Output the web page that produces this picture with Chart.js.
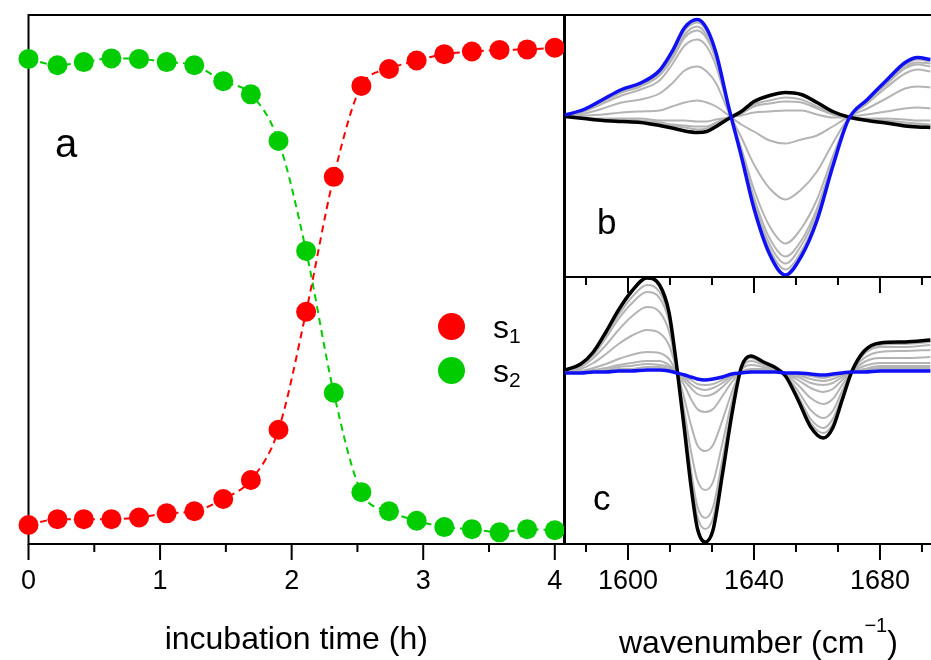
<!DOCTYPE html>
<html><head><meta charset="utf-8">
<script src="https://cdn.jsdelivr.net/npm/chart.js@4.4.1/dist/chart.umd.min.js"></script>
<style>
html,body{margin:0;padding:0;background:#fff;}
#wrap{position:relative;width:931px;height:660px;overflow:hidden;font-family:'Liberation Sans',Arial,sans-serif;color:#000;}
canvas{position:absolute;left:0;top:0;}
.t{position:absolute;line-height:1;white-space:nowrap;}
.r{position:relative;}
.dot{position:absolute;border-radius:50%;width:27px;height:27px;}
</style></head><body>
<div id="wrap">
<canvas id="ca" width="931" height="660"></canvas>
<canvas id="cb" width="931" height="660"></canvas>
<canvas id="cc" width="931" height="660"></canvas>
<div class="t" style="left:55px;top:123px;font-size:40px">a</div>
<div class="t" style="left:597px;top:204px;font-size:35px">b</div>
<div class="t" style="left:593px;top:480px;font-size:35px">c</div>
<div class="dot" style="left:437.5px;top:313px;background:#ff0000"></div>
<div class="dot" style="left:437.5px;top:356.5px;background:#00cc00"></div>
<div class="t" style="left:493px;top:311px;font-size:32px">s<span class="r" style="font-size:21px;top:5px">1</span></div>
<div class="t" style="left:493px;top:354.5px;font-size:32px">s<span class="r" style="font-size:21px;top:5px">2</span></div>
<div class="t" style="left:619px;top:625.5px;font-size:32px">wavenumber (cm<span class="r" style="font-size:20px;top:-21px">&minus;1</span>)</div>
</div>
<script>
// ---------- panel a : incubation kinetics ----------
const timeH = [0, 0.22, 0.42, 0.63, 0.84, 1.05, 1.26, 1.48, 1.69, 1.90, 2.11, 2.32, 2.53, 2.74, 2.95, 3.16, 3.37, 3.58, 3.79, 4.00];
const s1 = [0.036, 0.047, 0.047, 0.047, 0.050, 0.058, 0.062, 0.085, 0.121, 0.216, 0.439, 0.694, 0.866, 0.898, 0.914, 0.926, 0.931, 0.934, 0.935, 0.938];
const s2 = [0.917, 0.905, 0.911, 0.918, 0.917, 0.911, 0.905, 0.875, 0.850, 0.762, 0.554, 0.286, 0.098, 0.062, 0.044, 0.032, 0.028, 0.022, 0.028, 0.026];
const majorTicksA = [0, 1, 2, 3, 4];
const minorTicksA = [0.5, 1.5, 2.5, 3.5];

// ---------- panel b : spectra ----------
const wnB = [1580, 1586, 1592, 1598, 1604, 1610, 1614, 1618, 1622, 1625, 1628, 1632, 1636, 1640, 1645, 1650, 1655, 1660, 1665, 1670, 1676, 1682, 1688, 1692, 1696];
const blueB  = [0.015, 0.07, 0.17, 0.27, 0.335, 0.46, 0.65, 0.89, 0.97, 0.88, 0.63, 0.09, -0.40, -0.92, -1.38, -1.585, -1.40, -1.04, -0.50, -0.03, 0.17, 0.36, 0.54, 0.59, 0.57];
const blackB = [0.00, -0.02, -0.04, -0.05, -0.06, -0.09, -0.115, -0.145, -0.16, -0.15, -0.10, -0.02, 0.05, 0.15, 0.21, 0.24, 0.22, 0.14, 0.05, -0.005, -0.04, -0.065, -0.095, -0.105, -0.11];
const greyB1 = [0.00, -0.02, -0.03, -0.04, -0.05, -0.07, -0.09, -0.11, -0.13, -0.12, -0.08, -0.02, 0.04, 0.12, 0.16, 0.19, 0.17, 0.10, 0.03, -0.01, -0.03, -0.05, -0.08, -0.08, -0.09];
const greyB2 = [0.00, -0.02, -0.03, -0.03, -0.04, -0.06, -0.08, -0.09, -0.10, -0.10, -0.06, -0.01, 0.03, 0.10, 0.13, 0.15, 0.14, 0.08, 0.02, -0.01, -0.03, -0.04, -0.06, -0.07, -0.08];
const greyB3 = [0.00, -0.01, -0.02, -0.02, -0.02, -0.04, -0.04, -0.04, -0.05, -0.05, -0.03, -0.01, 0.01, 0.04, 0.05, 0.06, 0.06, 0.02, -0.01, -0.01, -0.02, -0.02, -0.03, -0.04, -0.04];
const greyB4 = [0.00, 0.01, 0.02, 0.04, 0.05, 0.06, 0.10, 0.14, 0.16, 0.14, 0.10, 0.01, -0.08, -0.15, -0.24, -0.27, -0.23, -0.19, -0.10, -0.01, 0.02, 0.05, 0.08, 0.09, 0.08];
const greyB5 = [0.01, 0.03, 0.08, 0.14, 0.17, 0.23, 0.33, 0.46, 0.50, 0.45, 0.33, 0.04, -0.21, -0.48, -0.72, -0.83, -0.73, -0.55, -0.27, -0.02, 0.08, 0.18, 0.28, 0.30, 0.29];
const greyB6 = [0.01, 0.05, 0.13, 0.21, 0.27, 0.36, 0.52, 0.71, 0.77, 0.70, 0.50, 0.07, -0.32, -0.73, -1.10, -1.27, -1.12, -0.83, -0.40, -0.03, 0.13, 0.29, 0.43, 0.47, 0.45];
const greyB7 = [0.01, 0.06, 0.15, 0.24, 0.30, 0.41, 0.57, 0.79, 0.86, 0.78, 0.56, 0.08, -0.36, -0.81, -1.22, -1.40, -1.24, -0.92, -0.45, -0.03, 0.15, 0.32, 0.48, 0.52, 0.50];
const greyB8 = [0.01, 0.06, 0.16, 0.25, 0.31, 0.42, 0.60, 0.82, 0.90, 0.81, 0.58, 0.08, -0.37, -0.85, -1.28, -1.47, -1.29, -0.96, -0.46, -0.03, 0.16, 0.33, 0.50, 0.54, 0.53];
const greyB9 = [0.01, 0.07, 0.16, 0.26, 0.32, 0.44, 0.63, 0.86, 0.94, 0.85, 0.61, 0.09, -0.39, -0.89, -1.33, -1.53, -1.35, -1.00, -0.48, -0.03, 0.16, 0.35, 0.52, 0.57, 0.55];

// ---------- panel c : difference spectra ----------
const wnC = [1580, 1585, 1589, 1593, 1597, 1601, 1606, 1610, 1613, 1615.5, 1618, 1620, 1622, 1624.5, 1627, 1630, 1633, 1636, 1639, 1643, 1647, 1650, 1654, 1658, 1662, 1665, 1668, 1671, 1675, 1680, 1688, 1696];
const blueC  = [-0.01, -0.01, 0.00, 0.00, 0.01, 0.01, 0.02, 0.02, 0.01, -0.01, -0.03, -0.05, -0.07, -0.08, -0.07, -0.05, -0.02, -0.01, 0.00, 0.00, 0.00, -0.01, -0.01, -0.02, -0.03, -0.02, -0.01, 0.00, 0.00, 0.01, 0.01, 0.01];
const blackC = [0.02, 0.08, 0.20, 0.40, 0.62, 0.80, 0.94, 0.87, 0.60, 0.05, -0.60, -1.14, -1.56, -1.70, -1.58, -1.02, -0.42, 0.05, 0.16, 0.10, 0.04, -0.04, -0.28, -0.55, -0.66, -0.56, -0.28, 0.00, 0.21, 0.29, 0.30, 0.32];
const greyC1 = [-0.01, -0.01, 0.01, 0.01, 0.03, 0.03, 0.05, 0.05, 0.03, -0.01, -0.05, -0.08, -0.12, -0.13, -0.12, -0.08, -0.03, -0.01, 0.00, 0.00, 0.00, -0.01, -0.02, -0.04, -0.06, -0.04, -0.02, 0.00, 0.01, 0.02, 0.02, 0.02];
const greyC2 = [-0.01, 0.00, 0.01, 0.02, 0.05, 0.06, 0.08, 0.07, 0.05, -0.01, -0.06, -0.12, -0.16, -0.18, -0.16, -0.11, -0.04, -0.01, 0.01, 0.01, 0.00, -0.01, -0.03, -0.07, -0.09, -0.07, -0.03, 0.00, 0.02, 0.04, 0.04, 0.04];
const greyC3 = [-0.01, 0.00, 0.02, 0.04, 0.07, 0.09, 0.11, 0.11, 0.07, 0.00, -0.09, -0.16, -0.22, -0.24, -0.22, -0.15, -0.06, 0.00, 0.02, 0.02, 0.01, -0.02, -0.05, -0.11, -0.13, -0.11, -0.05, 0.00, 0.03, 0.06, 0.06, 0.06];
const greyC4 = [0.00, 0.01, 0.04, 0.08, 0.13, 0.17, 0.20, 0.19, 0.13, 0.00, -0.14, -0.27, -0.37, -0.40, -0.37, -0.24, -0.10, 0.00, 0.03, 0.03, 0.01, -0.02, -0.08, -0.16, -0.20, -0.17, -0.08, 0.00, 0.06, 0.09, 0.09, 0.09];
const greyC5 = [0.00, 0.03, 0.09, 0.18, 0.28, 0.36, 0.42, 0.39, 0.27, 0.02, -0.28, -0.53, -0.73, -0.79, -0.73, -0.48, -0.20, 0.02, 0.07, 0.05, 0.02, -0.02, -0.13, -0.26, -0.32, -0.27, -0.13, 0.00, 0.10, 0.14, 0.14, 0.15];
const greyC6 = [0.01, 0.05, 0.14, 0.27, 0.42, 0.55, 0.65, 0.60, 0.41, 0.03, -0.42, -0.79, -1.08, -1.18, -1.10, -0.71, -0.29, 0.03, 0.11, 0.07, 0.03, -0.03, -0.19, -0.38, -0.46, -0.39, -0.19, 0.00, 0.14, 0.20, 0.21, 0.22];
const greyC7 = [0.02, 0.07, 0.17, 0.34, 0.53, 0.68, 0.80, 0.74, 0.51, 0.04, -0.51, -0.98, -1.34, -1.46, -1.35, -0.87, -0.36, 0.04, 0.14, 0.08, 0.03, -0.04, -0.24, -0.47, -0.56, -0.47, -0.24, 0.00, 0.18, 0.25, 0.25, 0.27];
const greyC8 = [0.02, 0.07, 0.18, 0.37, 0.57, 0.74, 0.87, 0.80, 0.55, 0.05, -0.55, -1.05, -1.44, -1.57, -1.46, -0.94, -0.39, 0.05, 0.15, 0.09, 0.04, -0.04, -0.26, -0.51, -0.61, -0.52, -0.26, 0.00, 0.19, 0.27, 0.28, 0.30];

const majorTicksWn = [1600, 1640, 1680];
const minorTicksWn = [1586.67, 1613.33, 1626.67, 1653.33, 1666.67, 1693.33];

// ---------- rendering ----------
const FONT = "'Liberation Sans', Arial, sans-serif";
Chart.defaults.font.family = FONT;
Chart.defaults.color = '#000';
const xy = (xs, ys) => xs.map((x, i) => ({x: x, y: ys[i]}));

const framePlugin = {
  id: 'frame',
  beforeDatasetsDraw(chart, args, o) {
    const ctx = chart.ctx, a = chart.chartArea, xs = chart.scales.x;
    ctx.save();
    ctx.strokeStyle = '#000';
    ctx.lineWidth = 2;
    ctx.lineCap = 'square';
    ctx.beginPath();
    if (o.top) { ctx.moveTo(a.left, a.top); ctx.lineTo(a.right, a.top); }
    if (o.bottom) { ctx.moveTo(a.left, a.bottom); ctx.lineTo(a.right, a.bottom); }
    if (o.left) { ctx.moveTo(a.left, a.top); ctx.lineTo(a.left, a.bottom); }
    if (o.right) { ctx.moveTo(a.right, a.top); ctx.lineTo(a.right, a.bottom); }
    ctx.stroke();
    ctx.lineCap = 'butt';
    ctx.beginPath();
    const marks = (vals, len, y) => vals.forEach(v => {
      const px = xs.getPixelForValue(v);
      ctx.moveTo(px, y); ctx.lineTo(px, y + len);
    });
    if (o.bottomTicks) { marks(o.major, 16, a.bottom); marks(o.minor, 8, a.bottom); }
    if (o.topTicks) { marks(o.major, 16, a.top); marks(o.minor, 8, a.top); }
    ctx.stroke();
    ctx.restore();
  }
};

const baseOpts = {
  responsive: false,
  animation: false,
  devicePixelRatio: 1,
  events: [],
  plugins: { legend: { display: false }, tooltip: { enabled: false } }
};

// panel a
new Chart(document.getElementById('ca'), {
  type: 'line',
  data: {
    datasets: [
      { label: 's1', data: xy(timeH, s1), borderColor: '#ff0000', backgroundColor: '#ff0000',
        borderWidth: 2, borderDash: [7, 5], cubicInterpolationMode: 'monotone',
        pointRadius: 10, pointBorderWidth: 0, pointBackgroundColor: '#ff0000', clip: false },
      { label: 's2', data: xy(timeH, s2), borderColor: '#00cc00', backgroundColor: '#00cc00',
        borderWidth: 2, borderDash: [7, 5], cubicInterpolationMode: 'monotone',
        pointRadius: 10, pointBorderWidth: 0, pointBackgroundColor: '#00cc00', clip: false }
    ]
  },
  options: Object.assign({}, baseOpts, {
    layout: { padding: { left: 23, right: 367, top: 15, bottom: 0 } },
    plugins: Object.assign({}, baseOpts.plugins, {
      frame: { top: true, bottom: true, left: true, right: true, bottomTicks: true, major: majorTicksA, minor: minorTicksA }
    }),
    scales: {
      x: { type: 'linear', min: 0, max: 4.07,
        afterBuildTicks: s => { s.ticks = majorTicksA.map(v => ({ value: v })); },
        afterFit: s => { s.height = 116; },
        grid: { display: false, drawTicks: false }, border: { display: false },
        ticks: { autoSkip: false, maxRotation: 0, padding: 21, font: { size: 27 }, color: '#000', callback: v => String(v) },
        title: { display: true, text: 'incubation time (h)', font: { size: 32 }, color: '#000', padding: { top: 0, bottom: 1 } } },
      y: { type: 'linear', min: 0, max: 1, display: false }
    }
  }),
  plugins: [framePlugin]
});

function specDatasets(xs, greys, black, blue) {
  const ds = greys.map((g, i) => ({ label: 'grey' + (i + 1), data: xy(xs, g), borderColor: '#b4b4b4', borderWidth: 2,
    pointRadius: 0, cubicInterpolationMode: 'monotone', order: 2 }));
  ds.push({ label: 'black', data: xy(xs, black), borderColor: '#000000', borderWidth: 3.5, pointRadius: 0, cubicInterpolationMode: 'monotone', order: 1 });
  ds.push({ label: 'blue', data: xy(xs, blue), borderColor: '#1010f5', borderWidth: 3.5, pointRadius: 0, cubicInterpolationMode: 'monotone', order: 0 });
  return ds;
}

// panel b
new Chart(document.getElementById('cb'), {
  type: 'line',
  data: { datasets: specDatasets(wnB, [greyB1, greyB2, greyB3, greyB4, greyB5, greyB6, greyB7, greyB8, greyB9], blackB, blueB) },
  options: Object.assign({}, baseOpts, {
    layout: { padding: { left: 565, right: 0, top: 15, bottom: 383 } },
    plugins: Object.assign({}, baseOpts.plugins, { frame: { top: true, left: true } }),
    scales: {
      x: { type: 'linear', min: 1580, max: 1696.2, display: false },
      y: { type: 'linear', min: -1.605, max: 1.015, display: false }
    }
  }),
  plugins: [framePlugin]
});

// panel c
new Chart(document.getElementById('cc'), {
  type: 'line',
  data: { datasets: specDatasets(wnC, [greyC1, greyC2, greyC3, greyC4, greyC5, greyC6, greyC7, greyC8], blackC, blueC) },
  options: Object.assign({}, baseOpts, {
    layout: { padding: { left: 565, right: 0, top: 277, bottom: 0 } },
    plugins: Object.assign({}, baseOpts.plugins, {
      frame: { top: true, left: true, bottom: true, bottomTicks: true, topTicks: true, major: majorTicksWn, minor: minorTicksWn }
    }),
    scales: {
      x: { type: 'linear', min: 1580, max: 1696.2,
        afterBuildTicks: s => { s.ticks = majorTicksWn.map(v => ({ value: v })); },
        afterFit: s => { s.height = 116; },
        grid: { display: false, drawTicks: false }, border: { display: false },
        ticks: { autoSkip: false, maxRotation: 0, padding: 21, font: { size: 27 }, color: '#000', callback: v => String(v) } },
      y: { type: 'linear', min: -1.72, max: 0.95, display: false }
    }
  }),
  plugins: [framePlugin]
});
</script>
</body></html>
